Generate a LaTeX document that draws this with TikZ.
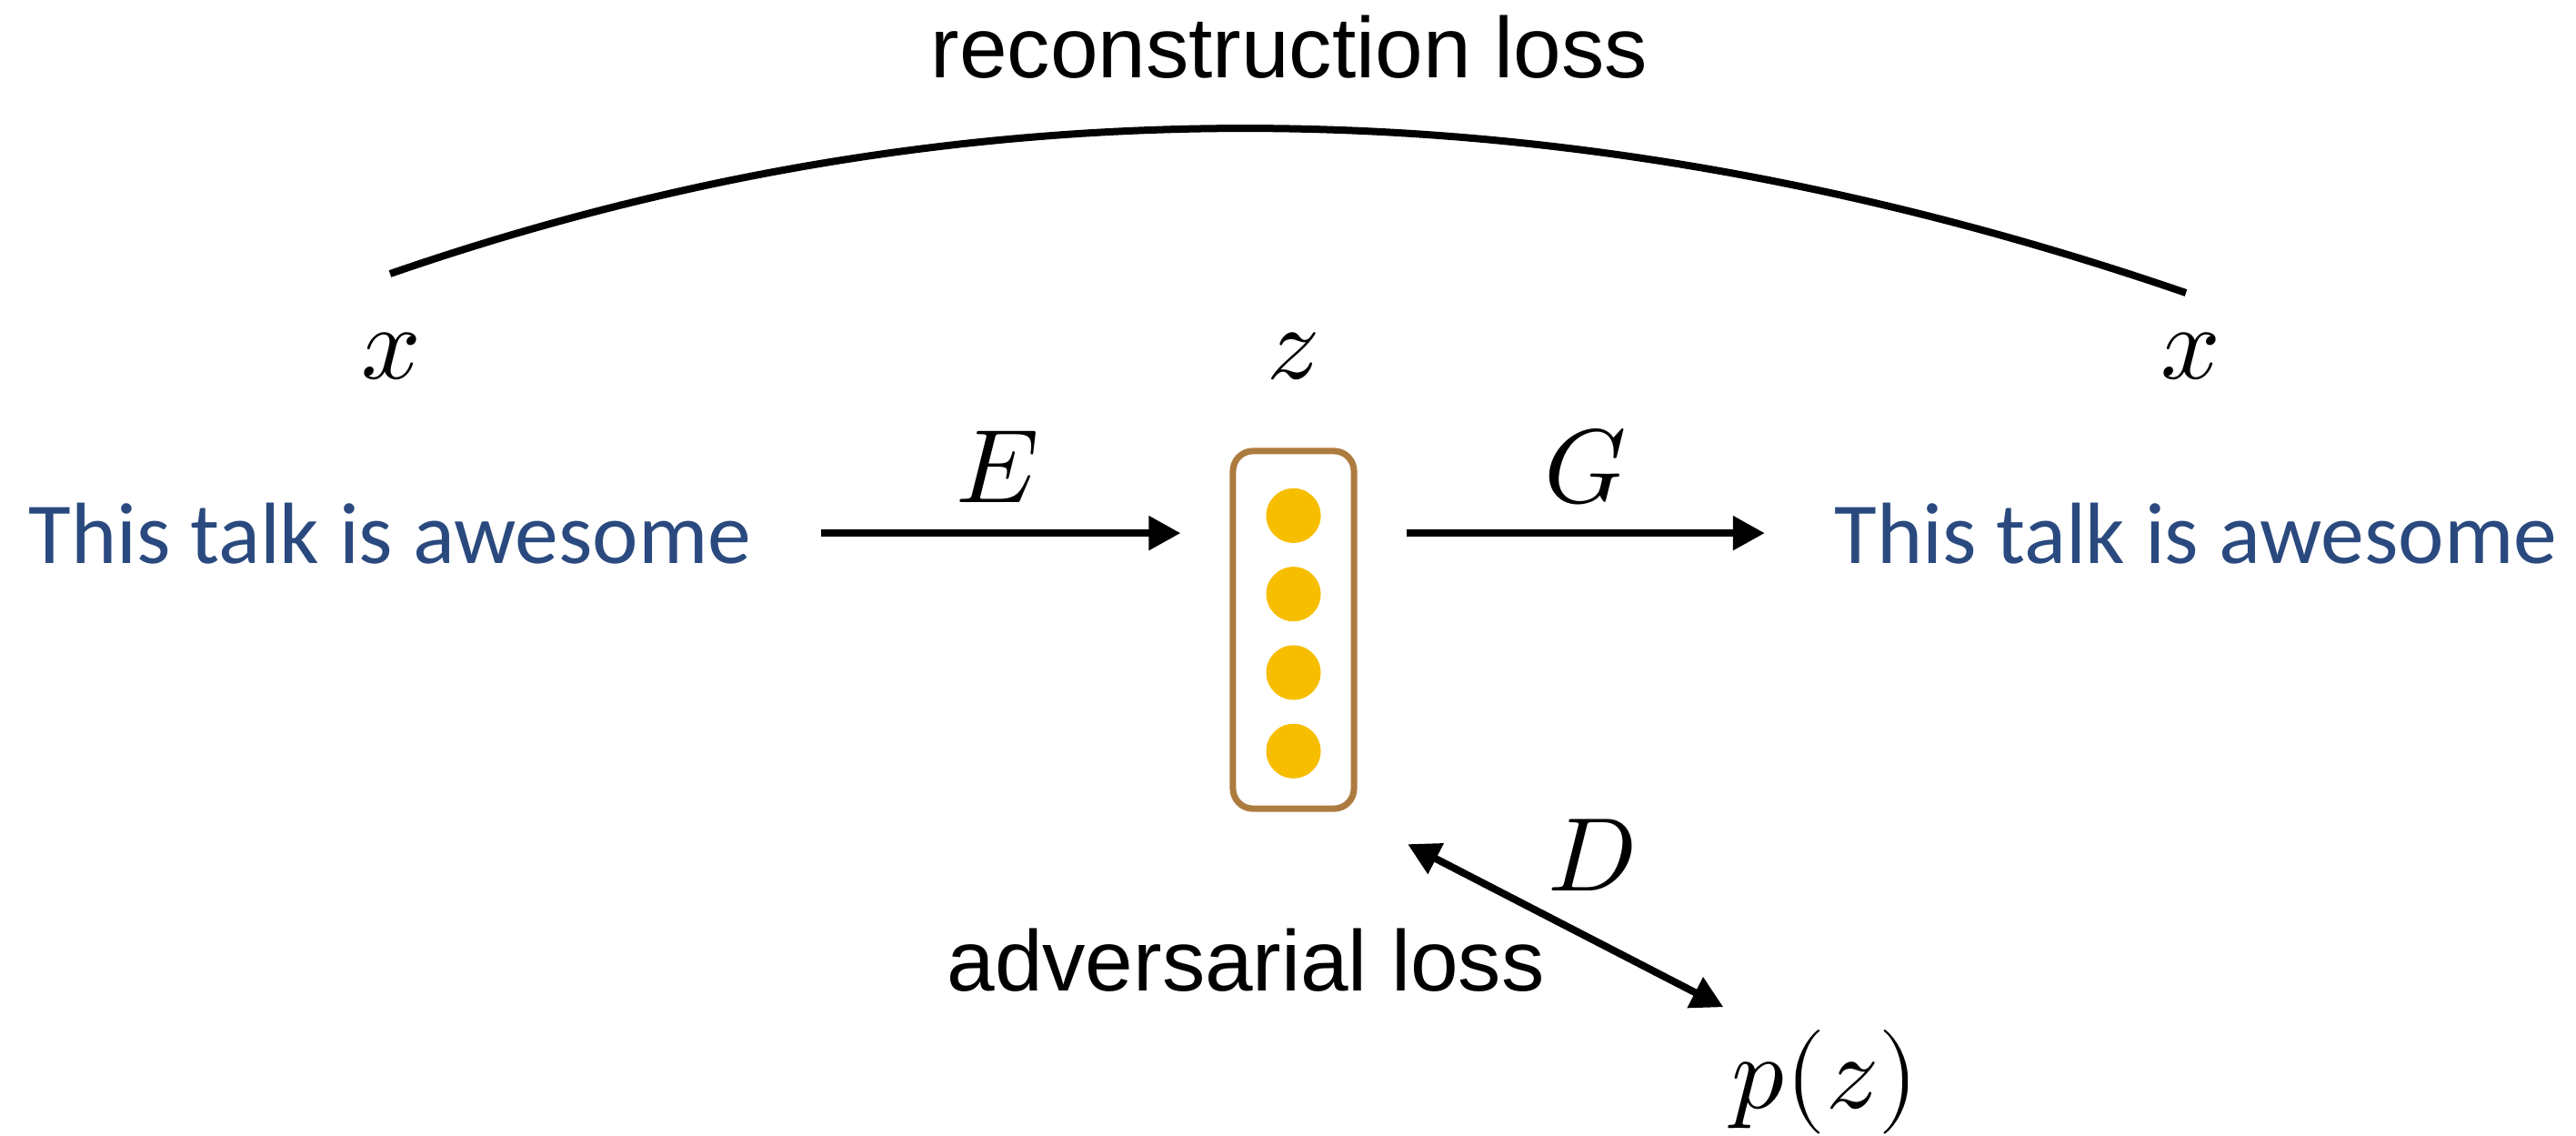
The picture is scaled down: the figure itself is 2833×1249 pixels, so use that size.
\documentclass[tikz,border=0pt]{standalone}
\usepackage{fontspec}
\usepackage{unicode-math}
\setmathfont{Latin Modern Math}
\newfontfamily\capfont{Liberation Sans}
\newfontfamily\sentfont{Carlito}
\usetikzlibrary{arrows.meta,positioning,calc}
\definecolor{sentblue}{RGB}{42,74,127}
\definecolor{boxbrown}{RGB}{173,123,63}
\definecolor{unitgold}{RGB}{247,190,0}
\tikzset{
  sent/.style={font=\sentfont\fontsize{27.2}{33}\selectfont, text=sentblue, inner sep=0pt, anchor=base},
  losslbl/.style={font=\capfont\fontsize{26.9}{32}\selectfont, inner sep=0pt, anchor=base},
  mathlbl/.style={font=\fontsize{32.7}{40}\selectfont, inner sep=0pt, anchor=base},
  arr/.style={line width=0.08cm, -{Triangle[length=0.35cm,width=0.36cm]}},
  darr/.style={line width=0.08cm, {Triangle[length=0.35cm,width=0.36cm]}-{Triangle[length=0.35cm,width=0.36cm]}},
}

\begin{document}
\begin{tikzpicture}[x=0.01cm, y=-0.01cm]
\useasboundingbox (0,0) rectangle (2833,1249);

% Latent code (box with units)
\node[draw=boxbrown, line width=0.07cm, rounded corners=0.22cm, minimum width=1.33cm,
      minimum height=3.93cm, inner sep=0pt] (zbox) at (1422.5,692.5) {};
\foreach \k in {0,...,3} {
    \fill[unitgold] ($(zbox.north)+(0,74.5+86.3*\k)$) circle[radius=0.3cm];
}

% Input and output sentences
\node[sent] (srcL) at (429,619) {This talk is awesome};
\node[sent] (srcR) at (2415,619) {This talk is awesome};

% Variable labels
\node[mathlbl] (xl) at (430,417) {$x$};
\node[mathlbl] (zl) at (1422,417) {$z$};
\node[mathlbl] (xr) at (2409,417) {$x$};
\node[mathlbl] (pz) at (2007,1218) {$p(z)$};

% Encoder / generator
\draw[arr] ([xshift=0.76cm]srcL.east) -- ([xshift=-0.54cm]srcL.east -| zbox.west);
\node[mathlbl] (Elab) at (1097,552) {$E$};
\draw[arr] ([xshift=0.54cm]srcR.west -| zbox.east) -- ([xshift=-0.76cm]srcR.west);
\node[mathlbl] (Glab) at (1744,552) {$G$};

% Reconstruction loss
\coordinate (arcL) at (429,301);
\coordinate (arcR) at (2404,322);
\draw[line width=0.08cm] (arcL) .. controls (1065,81) and (1723,88) .. (arcR);
\node[losslbl] (recon) at (1418,86) {reconstruction loss};

% Adversarial loss
\draw[darr] ([shift={(55.5,35.5)}]zbox.south east) -- ([shift={(-8,-24)}]pz.north west);
\node[mathlbl] (Dlab) at (1750,979) {$D$};
\node[losslbl] (adv) at (1370,1089) {adversarial loss};

\end{tikzpicture}
\end{document}
